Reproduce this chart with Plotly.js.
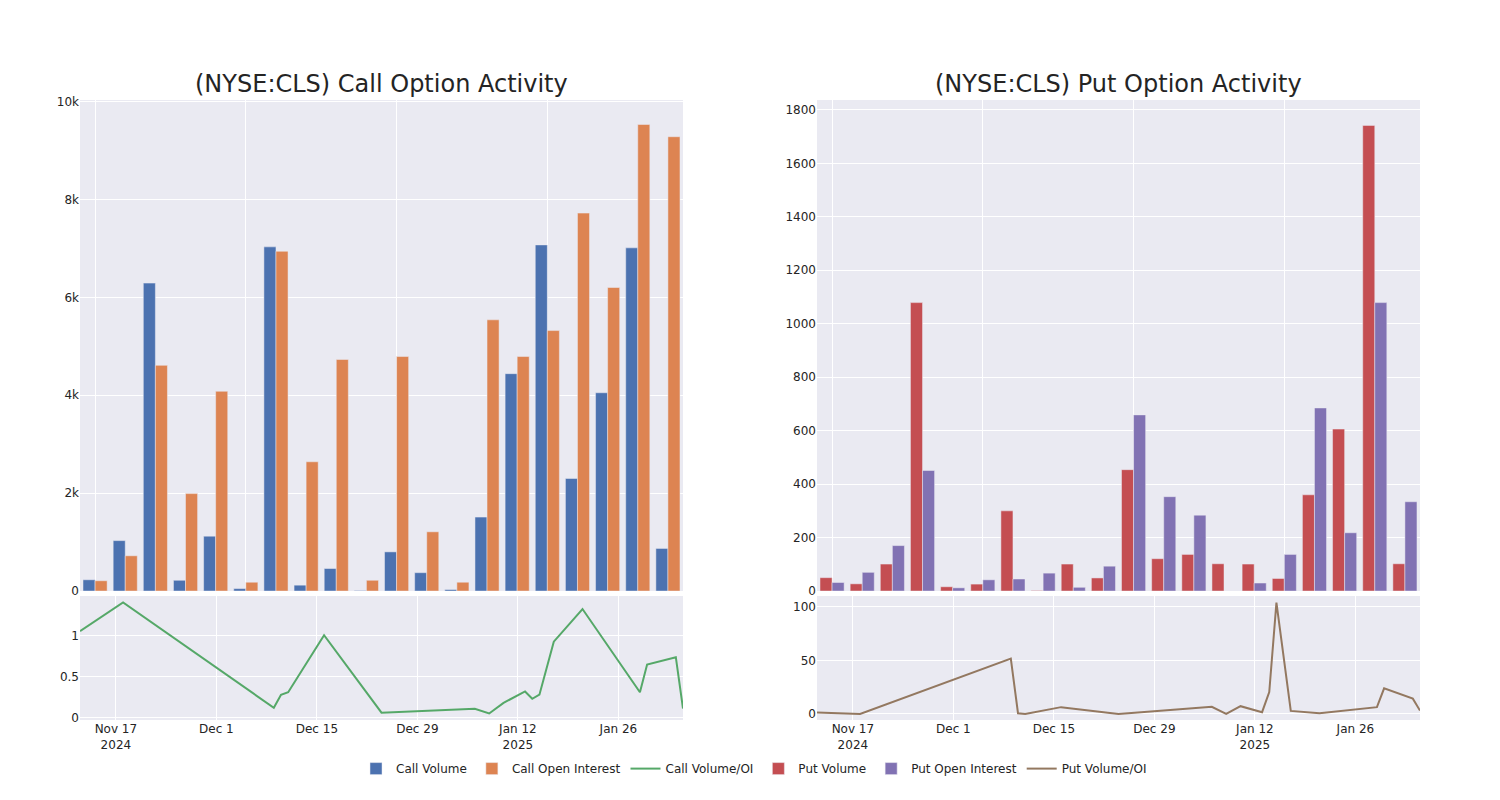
<!DOCTYPE html>
<html>
<head>
<meta charset="utf-8">
<script src="https://cdn.plot.ly/plotly-3.0.1.min.js"></script>
<style>html,body{margin:0;padding:0;background:#fff;}#chart{width:1500px;height:800px;}</style>
</head>
<body>
<div id="chart"></div>
<script>
// Bar categories (labels hidden in the chart)
const strikes = ["60","65","70","75","80","85","90","95","100","105","110","115","120","125","130","135","140","145","150","155"];

const callVolume = [230, 1030, 6290, 220, 1120, 50, 7030, 120, 460, 10, 800, 375, 30, 1510, 4440, 7070, 2300, 4050, 7010, 870];
const callOpenInterest = [210, 720, 4610, 1990, 4080, 180, 6940, 2640, 4730, 220, 4790, 1210, 180, 5540, 4790, 5320, 7720, 6200, 9530, 9280];

const putVolume = [50, 27, 101, 1079, 16, 26, 300, 2, 101, 49, 454, 121, 137, 102, 101, 47, 360, 606, 1742, 102];
const putOpenInterest = [32, 70, 170, 451, 12, 42, 45, 67, 14, 93, 659, 353, 284, 0, 30, 137, 685, 218, 1079, 334];

// Daily ratio series
const ratioDates = ["2024-11-12","2024-11-18","2024-12-09","2024-12-10","2024-12-11","2024-12-16","2024-12-24","2025-01-06","2025-01-08","2025-01-10","2025-01-13","2025-01-14","2025-01-15","2025-01-17","2025-01-21","2025-01-29","2025-01-30","2025-02-03","2025-02-04"];
const callVolOI = [1.06, 1.41, 0.12, 0.28, 0.31, 1.01, 0.06, 0.107, 0.05, 0.18, 0.32, 0.23, 0.28, 0.93, 1.33, 0.31, 0.65, 0.74, 0.11];
const putVolOI = [1.3, 0.0, 51.6, 0.6, 0.0, 6.3, 0.0, 6.6, 0.0, 7.2, 1.6, 20.4, 103.8, 2.8, 0.6, 6.3, 23.9, 14.2, 3.1];

const C = {
  blue: "rgb(76,114,176)", orange: "rgb(221,132,82)", green: "rgb(85,168,104)",
  red: "rgb(196,78,82)", purple: "rgb(129,114,179)", brown: "rgb(147,120,96)",
  bg: "rgb(234,234,242)", text: "rgb(36,36,36)"
};
const barLine = {color: C.bg, width: 0.5};

const traces = [
  {type: "bar", name: "Call Volume", x: strikes, y: callVolume, xaxis: "x", yaxis: "y", marker: {color: C.blue, line: barLine}},
  {type: "bar", name: "Call Open Interest", x: strikes, y: callOpenInterest, xaxis: "x", yaxis: "y", marker: {color: C.orange, line: barLine}},
  {type: "scatter", mode: "lines", name: "Call Volume/OI", x: ratioDates, y: callVolOI, xaxis: "x3", yaxis: "y3", line: {color: C.green, width: 2}},
  {type: "bar", name: "Put Volume", x: strikes, y: putVolume, xaxis: "x2", yaxis: "y2", marker: {color: C.red, line: barLine}},
  {type: "bar", name: "Put Open Interest", x: strikes, y: putOpenInterest, xaxis: "x2", yaxis: "y2", marker: {color: C.purple, line: barLine}},
  {type: "scatter", mode: "lines", name: "Put Volume/OI", x: ratioDates, y: putVolOI, xaxis: "x4", yaxis: "y4", line: {color: C.brown, width: 2}}
];

const gridAx = {showgrid: true, gridcolor: "white", gridwidth: 1, zeroline: false, showline: false, ticks: "", tickfont: {size: 12, color: C.text}};
const catAx = Object.assign({}, gridAx, {type: "category", showticklabels: false, tickmode: "linear", tick0: 0, dtick: 5});
const dateAx = Object.assign({}, gridAx, {type: "date", range: ["2024-11-12", "2025-02-04"], tickmode: "linear", tick0: "2024-11-17", dtick: 14 * 86400000});

const layout = {
  width: 1500, height: 800,
  paper_bgcolor: "white", plot_bgcolor: C.bg,
  font: {family: "DejaVu Sans", size: 12, color: C.text},
  margin: {l: 80, r: 80, t: 100, b: 80},
  barmode: "group", bargap: 0.2, bargroupgap: 0,
  showlegend: true,
  legend: {orientation: "h", x: 0.503, xanchor: "center", y: -0.055, yanchor: "top", font: {size: 12, color: C.text}},
  xaxis: Object.assign({}, catAx, {domain: [0, 0.45], anchor: "y"}),
  yaxis: Object.assign({}, gridAx, {domain: [0.208, 1], anchor: "x", range: [0, 10030], dtick: 2000}),
  xaxis2: Object.assign({}, catAx, {domain: [0.55, 1], anchor: "y2"}),
  yaxis2: Object.assign({}, gridAx, {domain: [0.208, 1], anchor: "x2", range: [0, 1837], dtick: 200}),
  xaxis3: Object.assign({}, dateAx, {domain: [0, 0.45], anchor: "y3"}),
  yaxis3: Object.assign({}, gridAx, {domain: [0, 0.2], anchor: "x3", range: [-0.03, 1.49], dtick: 0.5}),
  xaxis4: Object.assign({}, dateAx, {domain: [0.55, 1], anchor: "y4"}),
  yaxis4: Object.assign({}, gridAx, {domain: [0, 0.2], anchor: "x4", range: [-5.7, 110], dtick: 50}),
  annotations: [
    {text: "(NYSE:CLS) Call Option Activity", xref: "paper", yref: "paper", x: 0.225, y: 1, xanchor: "center", yanchor: "bottom", showarrow: false, font: {size: 24, color: C.text}},
    {text: "(NYSE:CLS) Put Option Activity", xref: "paper", yref: "paper", x: 0.775, y: 1, xanchor: "center", yanchor: "bottom", showarrow: false, font: {size: 24, color: C.text}}
  ]
};

Plotly.newPlot("chart", traces, layout, {displayModeBar: false, responsive: false});
</script>
</body>
</html>
